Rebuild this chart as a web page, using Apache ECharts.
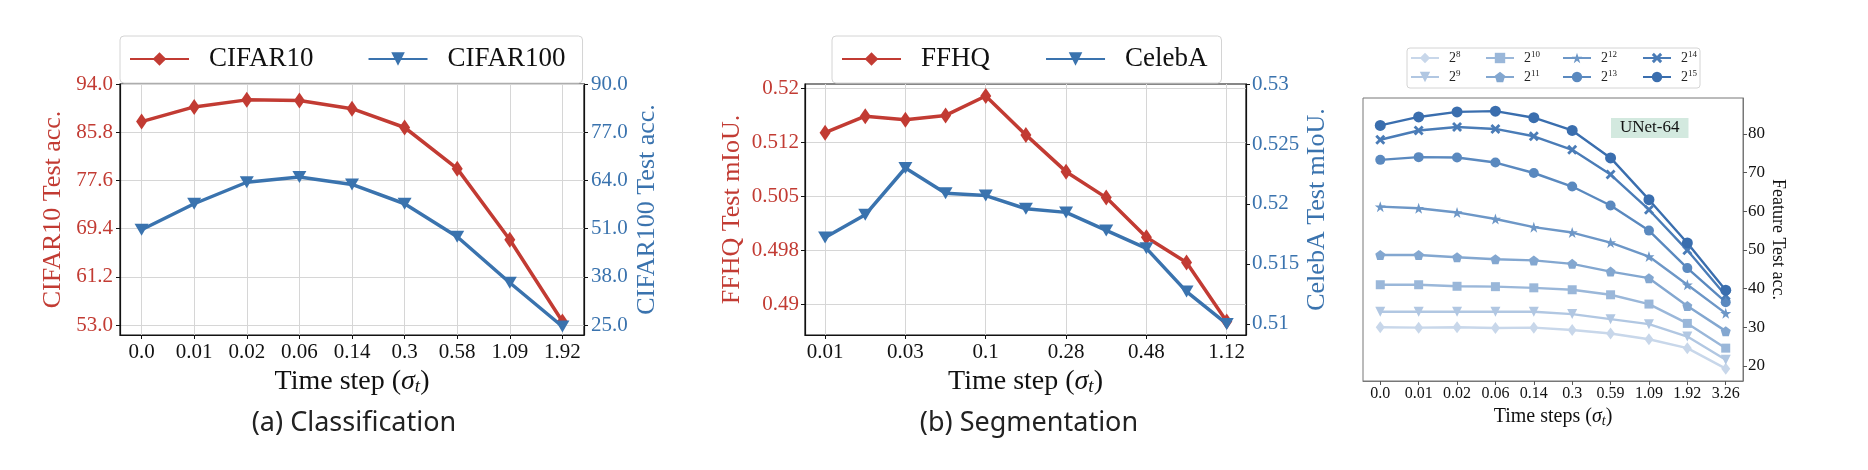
<!DOCTYPE html>
<html lang="en">
<head>
<meta charset="UTF-8">
<title>Time step study</title>
<script src="https://cdn.jsdelivr.net/npm/echarts@6/dist/echarts.min.js"></script>
<style>
  html, body { margin: 0; background: #fff; }
  #main { width: 1868px; height: 470px; }
</style>
</head>
<body>
<div id="main"></div>
<script>
  // (a) classification
  var clsSteps = ['0.0', '0.01', '0.02', '0.06', '0.14', '0.3', '0.58', '1.09', '1.92'];
  var cifar10 = [87.6, 90.1, 91.3, 91.2, 89.8, 86.6, 79.6, 67.5, 53.6];
  var cifar100 = [50.7, 57.7, 63.5, 64.9, 62.9, 57.7, 48.8, 36.4, 24.6];
  var cifar10Ticks = [53.0, 61.2, 69.4, 77.6, 85.8, 94.0];
  var cifar100Ticks = [25.0, 38.0, 51.0, 64.0, 77.0, 90.0];

  // (b) segmentation: 11 steps, only every other one is labelled
  var segTickIdx = [0, 2, 4, 6, 8, 10];
  var segTickLabels = ['0.01', '0.03', '0.1', '0.28', '0.48', '1.12'];
  var ffhq = [0.5138, 0.5161, 0.5156, 0.5162, 0.5189, 0.5135, 0.5084, 0.5048, 0.4993, 0.4958, 0.4876];
  var celeba = [0.5172, 0.5191, 0.5230, 0.5209, 0.5207, 0.5196, 0.5193, 0.5178, 0.5163, 0.5127, 0.5100];
  var ffhqTicks = [0.49, 0.4975, 0.505, 0.5125, 0.52];
  var ffhqTickLabels = ['0.49', '0.498', '0.505', '0.512', '0.52'];
  var celebaTicks = [0.51, 0.515, 0.52, 0.525, 0.53];
  var celebaTickLabels = ['0.51', '0.515', '0.52', '0.525', '0.53'];

  // feature test acc. for different feature sizes
  var featSteps = ['0.0', '0.01', '0.02', '0.06', '0.14', '0.3', '0.59', '1.09', '1.92', '3.26'];
  var featNames = ['2^8', '2^9', '2^10', '2^11', '2^12', '2^13', '2^14', '2^15'];
  var feat8 = [30.0, 29.9, 30.0, 29.8, 29.9, 29.3, 28.4, 26.9, 24.6, 19.3];
  var feat9 = [34.0, 34.0, 34.0, 34.0, 34.0, 33.4, 32.1, 30.8, 27.6, 21.6];
  var feat10 = [41.0, 41.0, 40.6, 40.5, 40.2, 39.7, 38.4, 36.0, 31.0, 24.6];
  var feat11 = [48.7, 48.7, 48.1, 47.6, 47.3, 46.4, 44.4, 42.7, 35.5, 29.0];
  var feat12 = [61.2, 60.8, 59.7, 58.0, 55.9, 54.5, 51.9, 48.3, 41.0, 33.6];
  var feat13 = [73.3, 74.0, 73.9, 72.6, 69.9, 66.4, 61.5, 55.0, 45.3, 36.5];
  var feat14 = [78.5, 80.9, 81.8, 81.3, 79.4, 75.9, 69.5, 60.4, 49.9, 38.2];
  var feat15 = [82.2, 84.4, 85.7, 85.9, 84.2, 80.9, 73.8, 63.0, 51.8, 39.6];
  var featValues = [feat8, feat9, feat10, feat11, feat12, feat13, feat14, feat15];
  var featTicks = [20, 30, 40, 50, 60, 70, 80];

  // styles
  var serif = 'Liberation Serif';
  var red = '#c23b33';
  var blue = '#3a73ae';
  var gridGray = '#d6d6d6';
  var featColors = ['#c8d7ea', '#b1c7e2', '#9ab7d9', '#83a7d0', '#6d97c7', '#5a89bf', '#4a7cb7', '#3a6eae'];
  var pentagon = 'path://M50,0 L97.6,34.5 L79.4,90.5 L20.6,90.5 L2.4,34.5 Z';
  var star = 'path://M50,0 L61.8,35.3 L97.6,35.3 L68.5,57 L79.4,91 L50,70 L20.6,91 L31.5,57 L2.4,35.3 L38.2,35.3 Z';
  var fatX = 'path://M20,0 L50,30 L80,0 L100,20 L70,50 L100,80 L80,100 L50,70 L20,100 L0,80 L30,50 L0,20 Z';
  var featSymbols = ['diamond', 'triangle', 'rect', pentagon, star, 'circle', fatX, 'circle'];
  var featSymbolSizes = [[9, 12], 10, 9, 10, 11, 10, 10, 11];
  var featRotate = [0, 180, 0, 0, 0, 0, 0, 0];

  function pairs(arr) {
    return arr.map(function (v, i) { return [i, v]; });
  }
  function indices(arr) {
    return arr.map(function (v, i) { return i; });
  }
  function nearestLabel(ticks, labels, v) {
    var best = 0;
    for (var i = 1; i < ticks.length; i++) {
      if (Math.abs(ticks[i] - v) < Math.abs(ticks[best] - v)) best = i;
    }
    return labels[best];
  }

  function nameRich(size) {
    return {
      i: { fontFamily: serif, fontStyle: 'italic', fontSize: size, color: '#111' },
      sub: { fontFamily: serif, fontStyle: 'italic', fontSize: Math.round(size * 0.68), color: '#111', padding: [Math.round(size * 0.4), 0, 0, 0] }
    };
  }

  var chart = echarts.init(document.getElementById('main'));

  var xAxes = [
    {
      gridIndex: 0, type: 'value', min: -0.41, max: 8.41,
      axisLine: { onZero: false, lineStyle: { color: '#111', width: 1.2 } },
      axisTick: { customValues: indices(clsSteps), length: 4, lineStyle: { color: '#111' } },
      axisLabel: {
        customValues: indices(clsSteps), margin: 7, fontFamily: serif, fontSize: 21, color: '#111',
        formatter: function (v) { return clsSteps[Math.round(v)]; }
      },
      splitLine: { show: true, lineStyle: { color: gridGray } },
      name: 'Time step ({i|σ}{sub|t})', nameLocation: 'middle', nameGap: 28,
      nameTextStyle: { fontFamily: serif, fontSize: 28, color: '#111', rich: nameRich(28) }
    },
    {
      gridIndex: 1, type: 'value', min: -0.5, max: 10.48,
      axisLine: { onZero: false, lineStyle: { color: '#111', width: 1.2 } },
      axisTick: { customValues: segTickIdx, length: 4, lineStyle: { color: '#111' } },
      axisLabel: {
        customValues: segTickIdx, margin: 7, fontFamily: serif, fontSize: 21, color: '#111',
        formatter: function (v) { return segTickLabels[segTickIdx.indexOf(Math.round(v))]; }
      },
      splitLine: { show: true, lineStyle: { color: gridGray } },
      name: 'Time step ({i|σ}{sub|t})', nameLocation: 'middle', nameGap: 28,
      nameTextStyle: { fontFamily: serif, fontSize: 28, color: '#111', rich: nameRich(28) }
    },
    {
      gridIndex: 2, type: 'value', min: -0.45, max: 9.45,
      axisLine: { onZero: false, lineStyle: { color: '#777', width: 1 } },
      axisTick: { customValues: indices(featSteps), length: 4, lineStyle: { color: '#555' } },
      axisLabel: {
        customValues: indices(featSteps), margin: 5, fontFamily: serif, fontSize: 16, color: '#111',
        formatter: function (v) { return featSteps[Math.round(v)]; }
      },
      splitLine: { show: false },
      name: 'Time steps ({i|σ}{sub|t})', nameLocation: 'middle', nameGap: 23,
      nameTextStyle: { fontFamily: serif, fontSize: 20, color: '#111', rich: nameRich(20) }
    }
  ];

  var yAxes = [
    {
      gridIndex: 0, type: 'value', position: 'left', min: 51.3, max: 94.0,
      axisLine: { show: true, onZero: false, lineStyle: { color: '#111', width: 1.2 } },
      axisTick: { show: true, customValues: cifar10Ticks, length: 4, lineStyle: { color: '#111' } },
      axisLabel: {
        customValues: cifar10Ticks, margin: 7, fontFamily: serif, fontSize: 21, color: red,
        formatter: function (v) { return v.toFixed(1); }
      },
      splitLine: { show: true, lineStyle: { color: gridGray } },
      name: 'CIFAR10 Test acc.', nameLocation: 'middle', nameGap: 54,
      nameTextStyle: { fontFamily: serif, fontSize: 26, color: red }
    },
    {
      gridIndex: 0, type: 'value', position: 'right', min: 22.3, max: 90.0,
      axisLine: { show: true, onZero: false, lineStyle: { color: '#111', width: 1.2 } },
      axisTick: { show: true, customValues: cifar100Ticks, length: 4, lineStyle: { color: '#111' } },
      axisLabel: {
        customValues: cifar100Ticks, margin: 7, fontFamily: serif, fontSize: 21, color: blue,
        formatter: function (v) { return v.toFixed(1); }
      },
      splitLine: { show: false },
      name: 'CIFAR100 Test acc.', nameLocation: 'middle', nameGap: 50,
      nameTextStyle: { fontFamily: serif, fontSize: 26, color: blue }
    },
    {
      gridIndex: 1, type: 'value', position: 'left', min: 0.48574, max: 0.52056,
      axisLine: { show: true, onZero: false, lineStyle: { color: '#111', width: 1.2 } },
      axisTick: { show: true, customValues: ffhqTicks, length: 4, lineStyle: { color: '#111' } },
      axisLabel: {
        customValues: ffhqTicks, margin: 6, fontFamily: serif, fontSize: 21, color: red,
        formatter: function (v) { return nearestLabel(ffhqTicks, ffhqTickLabels, v); }
      },
      splitLine: { show: true, lineStyle: { color: gridGray } },
      name: 'FFHQ Test mIoU.', nameLocation: 'middle', nameGap: 60,
      nameTextStyle: { fontFamily: serif, fontSize: 26, color: red }
    },
    {
      gridIndex: 1, type: 'value', position: 'right', min: 0.50908, max: 0.53,
      axisLine: { show: true, onZero: false, lineStyle: { color: '#111', width: 1.2 } },
      axisTick: { show: true, customValues: celebaTicks, length: 4, lineStyle: { color: '#111' } },
      axisLabel: {
        customValues: celebaTicks, margin: 6, fontFamily: serif, fontSize: 21, color: blue,
        formatter: function (v) { return nearestLabel(celebaTicks, celebaTickLabels, v); }
      },
      splitLine: { show: false },
      name: 'CelebA Test mIoU.', nameLocation: 'middle', nameGap: 58,
      nameTextStyle: { fontFamily: serif, fontSize: 26, color: blue }
    },
    {
      gridIndex: 2, type: 'value', position: 'right', min: 16.1, max: 89.3,
      axisLine: { show: true, onZero: false, lineStyle: { color: '#777', width: 1 } },
      axisTick: { show: true, customValues: featTicks, length: 4, lineStyle: { color: '#555' } },
      axisLabel: { customValues: featTicks, margin: 5, fontFamily: serif, fontSize: 17, color: '#111' },
      splitLine: { show: false },
      name: 'Feature Test acc.', nameLocation: 'middle', nameRotate: -90, nameGap: 24,
      nameTextStyle: { fontFamily: serif, fontSize: 18, color: '#111' }
    }
  ];

  var series = [
    {
      type: 'line', name: 'CIFAR10', xAxisIndex: 0, yAxisIndex: 0, data: pairs(cifar10),
      symbol: 'diamond', symbolSize: [11, 16], lineStyle: { color: red, width: 3.5 }, itemStyle: { color: red }
    },
    {
      type: 'line', name: 'CIFAR100', xAxisIndex: 0, yAxisIndex: 1, data: pairs(cifar100),
      symbol: 'triangle', symbolRotate: 180, symbolSize: [14, 12], lineStyle: { color: blue, width: 3.5 }, itemStyle: { color: blue }
    },
    {
      type: 'line', name: 'FFHQ', xAxisIndex: 1, yAxisIndex: 2, data: pairs(ffhq),
      symbol: 'diamond', symbolSize: [11, 16], lineStyle: { color: red, width: 3.5 }, itemStyle: { color: red }
    },
    {
      type: 'line', name: 'CelebA', xAxisIndex: 1, yAxisIndex: 3, data: pairs(celeba),
      symbol: 'triangle', symbolRotate: 180, symbolSize: [14, 12], lineStyle: { color: blue, width: 3.5 }, itemStyle: { color: blue }
    }
  ];
  featNames.forEach(function (name, k) {
    series.push({
      type: 'line', name: name, xAxisIndex: 2, yAxisIndex: 4, data: pairs(featValues[k]),
      symbol: featSymbols[k], symbolSize: featSymbolSizes[k], symbolRotate: featRotate[k],
      lineStyle: { color: featColors[k], width: 2.4 }, itemStyle: { color: featColors[k] }
    });
  });

  var bigLegend = {
    orient: 'horizontal', top: 36, itemWidth: 59, itemHeight: 17,
    borderColor: '#d4d4d4', borderWidth: 1, borderRadius: 4,
    backgroundColor: '#fff', selectedMode: false,
    textStyle: { fontFamily: serif, fontSize: 27, color: '#111', lineHeight: 30, padding: [0, 0, 0, 15] }
  };
  var legends = [
    Object.assign({}, bigLegend, { left: 120, itemGap: 54, padding: [8, 17, 9, 9], data: ['CIFAR10', 'CIFAR100'] }),
    Object.assign({}, bigLegend, { left: 832, itemGap: 55, padding: [8, 14, 9, 9], data: ['FFHQ', 'CelebA'] })
  ];
  var featLegendLeft = [1410, 1485, 1562, 1642];
  featLegendLeft.forEach(function (x, c) {
    legends.push({
      orient: 'vertical', left: x, top: 50, itemWidth: 28, itemHeight: 13, itemGap: 4,
      selectedMode: false, padding: 0, data: [featNames[2 * c], featNames[2 * c + 1]],
      formatter: function (name) {
        var p = name.split('^');
        return '{b|' + p[0] + '}{s|' + p[1] + '}';
      },
      textStyle: {
        padding: [0, 0, 0, 5], lineHeight: 14,
        rich: {
          b: { fontFamily: serif, fontSize: 14, color: '#222' },
          s: { fontFamily: serif, fontSize: 9, color: '#222', padding: [0, 0, 7, 0] }
        }
      }
    });
  });

  var option = {
    animation: false,
    backgroundColor: '#fff',
    title: {
      text: 'UNet-64', left: 1611, top: 118, padding: [1, 9],
      backgroundColor: '#d3e9df',
      textStyle: { fontFamily: serif, fontSize: 17, fontWeight: 'normal', color: '#111', lineHeight: 18 }
    },
    legend: legends,
    grid: [
      { left: 120, top: 84, width: 464, height: 251, show: true, borderColor: '#111', borderWidth: 1.2, backgroundColor: 'transparent' },
      { left: 805, top: 84, width: 441, height: 251, show: true, borderColor: '#111', borderWidth: 1.2, backgroundColor: 'transparent' },
      { left: 1363, top: 98, width: 380, height: 283, show: true, borderColor: '#777', borderWidth: 1, backgroundColor: 'transparent' }
    ],
    xAxis: xAxes,
    yAxis: yAxes,
    graphic: [
      {
        type: 'rect', z: 0, shape: { x: 1407, y: 48, width: 293, height: 40, r: 3 },
        style: { fill: '#fff', stroke: '#d4d4d4', lineWidth: 1 }
      },
      {
        type: 'text', x: 354, y: 423,
        style: { text: '(a) Classification', fontFamily: 'Noto Sans', fontSize: 27, fill: '#222', textAlign: 'center', textVerticalAlign: 'middle' }
      },
      {
        type: 'text', x: 1029, y: 423,
        style: { text: '(b) Segmentation', fontFamily: 'Noto Sans', fontSize: 27, fill: '#222', textAlign: 'center', textVerticalAlign: 'middle' }
      }
    ],
    series: series
  };

  chart.setOption(option);
</script>
</body>
</html>
